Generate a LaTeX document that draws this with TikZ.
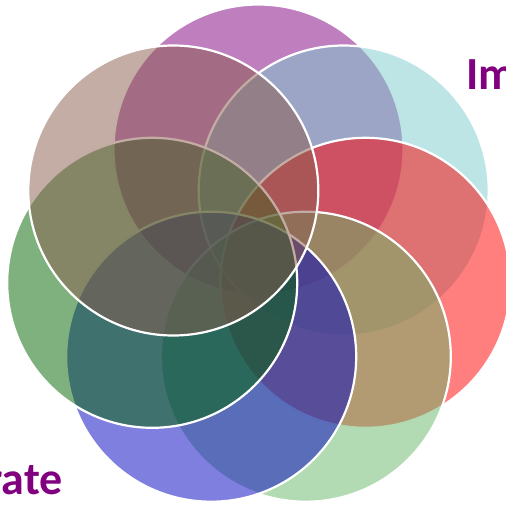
\documentclass[tikz,border=0pt]{standalone}
\usepackage{fontspec}
\newfontfamily\carl{Carlito}
\definecolor{cpurple}{RGB}{128,0,128}
\definecolor{ccyan}{RGB}{123,203,203}
\definecolor{cred}{RGB}{255,0,0}
\definecolor{clgreen}{RGB}{103,183,103}
\definecolor{cblue}{RGB}{0,0,192}
\definecolor{cgreen}{RGB}{0,100,0}
\definecolor{cbrown}{RGB}{137,91,75}
\definecolor{ctext}{RGB}{128,0,128}
\begin{document}
\begin{tikzpicture}[x=1pt,y=-1pt,
  petal/.style={circle, minimum size=290pt, inner sep=0pt, outer sep=0pt,
    draw=white, line width=2.2pt, fill opacity=0.5, draw opacity=1},
  lbl/.style={font=\carl\bfseries\fontsize{46}{50}\selectfont, text=ctext, inner sep=0pt}]
\useasboundingbox (0,0) rectangle (506,504);
\node[petal, fill=cpurple] (p1) at (258.5,149.5) {};
\node[petal, fill=ccyan]   (p2) at (343.7,190.5) {};
\node[petal, fill=cred]    (p3) at (365.5,282.8) {};
\node[petal, fill=clgreen] (p4) at (305.8,356.7) {};
\node[petal, fill=cblue]   (p5) at (211.2,356.7) {};
\node[petal, fill=cgreen]  (p6) at (152.2,282.8) {};
\node[petal, fill=cbrown]  (p7) at (173.3,190.5) {};
\node[lbl, anchor=base west] (t1) at (466,89) {Im};
\node[lbl, anchor=base east] (t2) at (63,494) {rate};
\end{tikzpicture}
\end{document}
